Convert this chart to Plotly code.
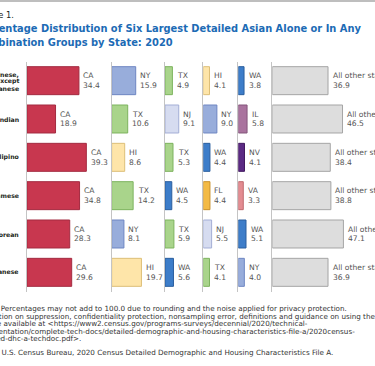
import plotly.graph_objects as go

W, H = 375, 366

groups = ["Chinese, except Taiwanese", "Asian Indian", "Filipino", "Vietnamese", "Korean", "Japanese"]
group_lines = [["Chinese,", "except", "Taiwanese"], ["Asian Indian"], ["Filipino"],
               ["Vietnamese"], ["Korean"], ["Japanese"]]

states1 = ["CA", "CA", "CA", "CA", "CA", "CA"]
vals1 = [34.4, 18.9, 39.3, 34.8, 28.3, 29.6]
states2 = ["NY", "TX", "HI", "TX", "NY", "HI"]
vals2 = [15.9, 10.6, 8.6, 14.2, 8.1, 19.7]
states3 = ["TX", "NJ", "TX", "WA", "TX", "WA"]
vals3 = [4.9, 9.1, 5.3, 4.5, 5.9, 5.6]
states4 = ["HI", "NY", "WA", "FL", "NJ", "TX"]
vals4 = [4.1, 9.0, 4.4, 4.4, 5.5, 4.1]
states5 = ["WA", "IL", "NV", "VA", "WA", "NY"]
vals5 = [3.8, 5.8, 4.1, 3.3, 5.1, 4.0]
states6 = ["All other states"] * 6
vals6 = [36.9, 46.5, 38.4, 38.8, 47.1, 36.9]

panels = [(states1, vals1), (states2, vals2), (states3, vals3),
          (states4, vals4), (states5, vals5), (states6, vals6)]

state_fill = {"CA": "#C8374F", "NY": "#98ADDB", "TX": "#A9D48B", "NJ": "#D6DCF0",
              "HI": "#FEE5A9", "WA": "#3D7DC9", "IL": "#A9739E", "NV": "#5B2A83",
              "FL": "#F3BA45", "VA": "#E38C91", "All other states": "#DDDDDD"}
state_line = {"CA": "#A32B40", "NY": "#6E86C2", "TX": "#7DB35E", "NJ": "#A3AED5",
              "HI": "#DDBF78", "WA": "#2A5E9E", "IL": "#83557A", "NV": "#42195F",
              "FL": "#C9902A", "VA": "#C06A6F", "All other states": "#A5A5A5"}

title_lines = ["Percentage Distribution of Six Largest Detailed Asian Alone or In Any",
               "Combination Groups by State: 2020"]
note_lines = [
    "Note: Percentages may not add to 100.0 due to rounding and the noise applied for privacy protection.",
    "Information on suppression, confidentiality protection, nonsampling error, definitions and guidance on using the",
    "data are available at <https://www2.census.gov/programs-surveys/decennial/2020/technical-",
    "documentation/complete-tech-docs/detailed-demographic-and-housing-characteristics-file-a/2020census-",
    "detailed-dhc-a-techdoc.pdf>.",
]
source_line = "Source: U.S. Census Bureau, 2020 Census Detailed Demographic and Housing Characteristics File A."

FONT = "DejaVu Sans"
edges = [27, 111.7, 165, 203.3, 238.3, 272.3, 375]
scale = 1.51  # px per percent
y_top, y_bot = 61.5, 291.5


def px(x):
    return x / W


def py(y):
    return 1 - y / H


fig = go.Figure()
layout = dict(
    width=W, height=H, margin=dict(l=0, r=0, t=0, b=0),
    paper_bgcolor="white", plot_bgcolor="rgba(0,0,0,0)",
    showlegend=False,
    font=dict(family=FONT, color="#444444"),
)
annotations = []

for i, (sts, vals) in enumerate(panels):
    k = "" if i == 0 else str(i + 1)
    xa, ya = "x" + k, "y" + k
    fig.add_trace(go.Bar(
        x=vals, y=groups, orientation="h", xaxis=xa, yaxis=ya,
        marker=dict(color=[state_fill[s] for s in sts],
                    line=dict(color=[state_line[s] for s in sts], width=1)),
        width=0.73, hoverinfo="skip",
    ))
    x0, x1 = edges[i], edges[i + 1]
    layout["xaxis" + k] = dict(domain=[px(x0), px(x1)], range=[0, (x1 - x0) / scale],
                               visible=False, anchor=ya, fixedrange=True)
    layout["yaxis" + k] = dict(domain=[py(y_bot), py(y_top)], type="category",
                               categoryorder="array", categoryarray=groups,
                               range=[5.5, -0.5], anchor=xa, showline=True,
                               linecolor="#C4C4C4", linewidth=1, showticklabels=False,
                               showgrid=False, zeroline=False, ticks="", fixedrange=True)
    for s, v, g in zip(sts, vals, groups):
        for t, sh in ((s, 4.9), (f"{v:.1f}", -4.9)):
            annotations.append(dict(
                x=v, y=g, xref=xa, yref=ya, xanchor="left", yanchor="middle",
                xshift=2.5, yshift=sh, align="left", showarrow=False,
                text=t, font=dict(size=7.6, color="#555555", family=FONT)))

# row labels
for g, lines in zip(groups, group_lines):
    n = len(lines)
    for j, t in enumerate(lines):
        annotations.append(dict(
            x=px(20.8), y=g, xref="paper", yref="y", xanchor="right", yanchor="middle",
            yshift=-(j - (n - 1) / 2) * 7.3 + (-0.8 if n > 1 else 0), showarrow=False,
            text=f"<b>{t}</b>", font=dict(size=6.2, color="#231F20", family=FONT)))

# figure label and title
annotations.append(dict(x=px(-24.5), y=py(15.5), xref="paper", yref="paper", xanchor="left",
                        yanchor="middle", showarrow=False, text="Figure 1.",
                        font=dict(size=8.3, color="#231F20", family=FONT)))
for t, yy in zip(title_lines, [29, 42.3]):
    annotations.append(dict(x=px(-28), y=py(yy), xref="paper", yref="paper", xanchor="left",
                            yanchor="middle", showarrow=False, text=f"<b>{t}</b>",
                            font=dict(size=9.9, color="#1C6BB5", family=FONT)))

# notes
note_x = [-23, -31.5, -31.5, -28.5, -26.5]
for t, yy, xx in zip(note_lines, [308.3, 316.3, 323.8, 331, 338], note_x):
    annotations.append(dict(x=px(xx), y=py(yy), xref="paper", yref="paper", xanchor="left",
                            yanchor="middle", showarrow=False, text=t,
                            font=dict(size=7.2, color="#333333", family=FONT)))
annotations.append(dict(x=px(-30.5), y=py(352), xref="paper", yref="paper", xanchor="left",
                        yanchor="middle", showarrow=False, text=source_line,
                        font=dict(size=7.2, color="#333333", family=FONT)))

layout["annotations"] = annotations
layout["shapes"] = [dict(type="line", xref="paper", yref="paper", x0=0, x1=1,
                         y0=py(1), y1=py(1), line=dict(color="#A8A8A8", width=1.5))]
fig.update_layout(**layout)
fig.write_html("out.html", config={"displayModeBar": False},
               post_script="document.body.style.margin='0';document.body.style.overflow='hidden';")
